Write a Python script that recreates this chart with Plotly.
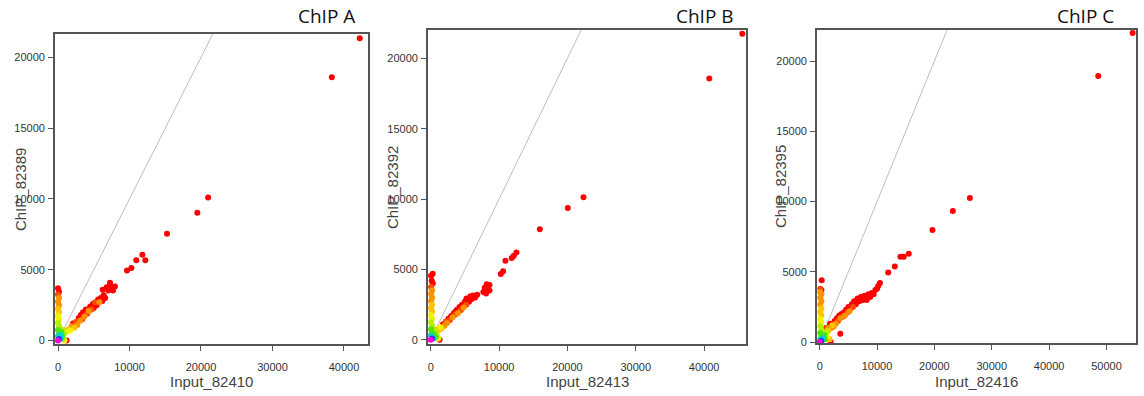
import plotly.graph_objects as go

# ---------------- data ----------------
# density level per point: 0 = sparse (red) ... 9 = densest (magenta)
xA = [0, 150, 0, 150, 0, 150, 0, 150, 0, 150, 0, 150, 0, 150, 0, 150, 0,
      450, 600, 400, 300, 700, 900, 1200, 800, 1000, 600,
      1200, 1500, 1700, 1900, 2100, 2300, 2500, 2700, 2900, 3100, 3200, 3400, 3500, 3700,
      3900, 4100, 4300, 4500, 4700, 4900, 5000, 5200, 5400, 5600, 5800, 6000, 6200, 6400, 6600,
      7270, 6810, 7510, 7970, 6250, 7040, 7690, 7300,
      9650, 10260, 10950, 11800, 12210, 15250, 19490, 21000, 38300, 42200]
yA = [3700, 3450, 3250, 3000, 2750, 2500, 2250, 2000, 1750, 1500, 1250, 1000, 750, 500, 300, 100, 0,
      600, 300, 150, 400, 100, 0, 0, 500, 700, 750,
      600, 800, 700, 1000, 1200, 900, 1300, 1100, 1600, 1400, 1800, 1500, 2000, 1700,
      2200, 1900, 2100, 2400, 2200, 2600, 2300, 2700, 2500, 2900, 2700, 3000, 2800, 3200, 3000,
      4080, 3770, 3660, 3820, 3590, 3540, 3540, 3900,
      4940, 5120, 5680, 6060, 5680, 7550, 9020, 10100, 18600, 21350]
dA = [0, 0, 1, 2, 2, 2, 3, 3, 4, 4, 5, 5, 6, 6, 7, 8, 9,
      6, 6, 7, 7, 5, 4, 0, 5, 3, 5,
      4, 3, 4, 2, 0, 3, 1, 2, 0, 2, 0, 1, 0, 2,
      0, 1, 2, 0, 1, 0, 0, 1, 0, 0, 2, 0, 0, 0, 0,
      0, 0, 0, 0, 0, 0, 0, 0,
      0, 0, 0, 0, 0, 0, 0, 0, 0, 0]

xB = [300, 50, 150, 300, 50, 200, 50, 200, 50, 200, 50, 200, 50, 200, 50, 200, 50, 200, 50, 200, 0,
      500, 700, 400, 600, 900, 1100, 1300, 800, 830,
      1200, 1400, 1600, 1800, 2000, 2200, 2400, 2600, 2800, 3000, 3200, 3400, 3600, 3800, 4000,
      4200, 4400, 4600, 4800, 5000, 5200, 5400, 5600, 5800, 6000, 6200, 6500, 6800, 3760, 4250,
      8200, 8600, 7900, 8300, 8600, 7700, 8100, 5230,
      10250, 10590, 10930, 11850, 12150, 12540, 15960, 20060, 22350, 40750, 45580]
yB = [4700, 4550, 4200, 4000, 3750, 3500, 3250, 3000, 2750, 2500, 2250, 2000, 1750, 1500, 1250, 1000, 750, 500, 300, 100, 0,
      400, 200, 100, 600, 300, 100, 0, 700, 700,
      700, 900, 800, 1100, 1000, 1300, 1200, 1500, 1400, 1700, 1600, 1900, 1800, 2100, 1900,
      2300, 2100, 2500, 2300, 2700, 2500, 2900, 2700, 3100, 2900, 3150, 3000, 3200, 2110, 2340,
      3950, 3900, 3700, 3600, 3500, 3400, 3300, 2930,
      4680, 4870, 5620, 5820, 5975, 6210, 7850, 9370, 10120, 18560, 21740]
dB = [0, 0, 0, 0, 1, 2, 2, 2, 2, 3, 3, 3, 4, 4, 5, 5, 6, 6, 7, 8, 9,
      6, 6, 7, 5, 5, 4, 0, 3, 0,
      3, 4, 3, 0, 2, 1, 2, 0, 1, 0, 2, 0, 1, 0, 2,
      0, 1, 0, 2, 0, 1, 0, 0, 0, 0, 0, 0, 0, 0, 0,
      0, 0, 0, 0, 0, 0, 0, 0,
      0, 0, 0, 0, 0, 0, 0, 0, 0, 0, 0]

xC = [350, 100, 300, 100, 300, 100, 300, 100, 300, 100, 300, 100, 300, 100, 300, 100, 300, 100, 300, 0,
      600, 800, 900, 1100, 1300, 1500, 1700, 1900, 1400, 1100,
      1800, 2000, 2200, 2400, 2600, 2800, 3000, 3200, 3400, 3600, 3800, 4000, 4200, 4400, 4600,
      4800, 5000, 5200, 5400, 5600, 5800, 6000, 6300, 6600, 6900, 7200, 7500, 7800, 8200, 8500,
      8800, 9100, 9400, 9700, 10000, 10200, 10500, 3600,
      11950, 13090, 14080, 14660, 15530, 19660, 23210, 26180, 48570, 54560]
yC = [4400, 3800, 3700, 3550, 3400, 3150, 2900, 2650, 2400, 2150, 1900, 1650, 1400, 1150, 900, 650, 400, 200, 100, 0,
      300, 500, 200, 700, 400, 800, 200, 0, 1000, 1000,
      1300, 1000, 1200, 1100, 1500, 1300, 1700, 1500, 1900, 1700, 2000, 1800, 2100, 1900, 2300,
      2100, 2500, 2200, 2400, 2700, 2500, 2900, 2700, 3100, 2900, 3200, 3000, 3300, 3000, 3400,
      3200, 3500, 3400, 3700, 3800, 4000, 4200, 600,
      4960, 5380, 6080, 6080, 6290, 7980, 9320, 10260, 18940, 21990]
dC = [0, 1, 0, 2, 2, 2, 2, 2, 3, 3, 3, 4, 4, 5, 5, 6, 6, 7, 8, 9,
      7, 6, 6, 5, 4, 3, 3, 0, 2, 0,
      0, 2, 3, 2, 0, 2, 0, 1, 0, 2, 0, 1, 0, 2, 0,
      1, 0, 2, 0, 0, 1, 0, 0, 0, 0, 0, 0, 0, 0, 0,
      0, 0, 0, 0, 0, 0, 0, 0,
      0, 0, 0, 0, 0, 0, 0, 0, 0, 0]

titles = ["ChIP A", "ChIP B", "ChIP C"]
xlabels = ["Input_82410", "Input_82413", "Input_82416"]
ylabels = ["ChIP_82389", "ChIP_82392", "ChIP_82395"]
xticks = [[0, 10000, 20000, 30000, 40000],
          [0, 10000, 20000, 30000, 40000],
          [0, 10000, 20000, 30000, 40000, 50000]]
yticks = [0, 5000, 10000, 15000, 20000]

# ---------------- styling / layout ----------------
W, H = 1144, 396
palette = ["#FF0000", "#FF4A00", "#FF9200", "#FFC400", "#F2F200",
           "#B4F000", "#4CE600", "#00D2C8", "#1E3CFF", "#FF00E0"]

boxes = [  # left, right, top, bottom in px
    (55, 368, 34, 348),
    (428, 746, 30, 348),
    (817, 1136, 30, 347),
]
xranges = [[-420, 43360], [-395, 46120], [-470, 55150]]
yranges = [[-280, 21680], [-330, 22030], [-100, 22230]]
title_pos = [(326, 16), (705, 16), (1085, 16)]
ytitle_pos = [(20, 192), (392, 190), (780, 188)]

fig = go.Figure()
data = [(xA, yA, dA), (xB, yB, dB), (xC, yC, dC)]

for i, (xs, ys, ds) in enumerate(data):
    ax = "" if i == 0 else str(i + 1)
    xr = xranges[i]
    # identity line y = x
    fig.add_trace(go.Scatter(x=[0, xr[1]], y=[0, xr[1]], mode="lines",
                             line=dict(color="#BDBDBD", width=1),
                             xaxis="x" + ax, yaxis="y" + ax, hoverinfo="skip",
                             showlegend=False))
    order = sorted(range(len(xs)), key=lambda k: ds[k])
    fig.add_trace(go.Scatter(x=[xs[k] for k in order], y=[ys[k] for k in order],
                             mode="markers",
                             marker=dict(size=6, color=[palette[ds[k]] for k in order],
                                         line=dict(width=0)),
                             xaxis="x" + ax, yaxis="y" + ax, showlegend=False,
                             cliponaxis=False))
    l, r, t, b = boxes[i]
    axis_common = dict(showline=True, mirror=True, linecolor="#555555", linewidth=1.8,
                       ticks="outside", ticklen=5, tickcolor="#555555", tickwidth=1,
                       showgrid=False, zeroline=False,
                       tickfont=dict(family="Liberation Sans, Arial", size=11, color="#333333"))
    fig.update_layout(**{
        "xaxis" + ax: dict(domain=[l / W, r / W], range=xr, tickvals=xticks[i],
                           ticktext=[str(v) for v in xticks[i]], anchor="y" + ax,
                           ticklabelstandoff=6, **axis_common),
        "yaxis" + ax: dict(domain=[1 - b / H, 1 - t / H], range=yranges[i], tickvals=yticks,
                           ticktext=[str(v) for v in yticks], anchor="x" + ax,
                           ticklabelstandoff=1, **axis_common),
    })
    fig.add_annotation(x=title_pos[i][0] / W, y=1 - title_pos[i][1] / H, xref="paper", yref="paper",
                       text=titles[i], showarrow=False, xanchor="center", yanchor="middle",
                       font=dict(family="Open Sans", size=19, color="#111111"))
    fig.add_annotation(x=(l + r) / 2 / W, y=1 - 385 / H, xref="paper", yref="paper",
                       text=xlabels[i], showarrow=False, xanchor="center", yanchor="middle",
                       font=dict(family="Liberation Sans, Arial", size=15, color="#444444"))
    fig.add_annotation(x=ytitle_pos[i][0] / W, y=1 - ytitle_pos[i][1] / H, xref="paper", yref="paper",
                       text=ylabels[i], showarrow=False, textangle=-90, xanchor="center", yanchor="middle",
                       font=dict(family="Liberation Sans, Arial", size=15, color="#444444"))

fig.update_layout(width=W, height=H, margin=dict(l=0, r=0, t=0, b=0),
                  paper_bgcolor="white", plot_bgcolor="white")
fig.write_html("out.html")
